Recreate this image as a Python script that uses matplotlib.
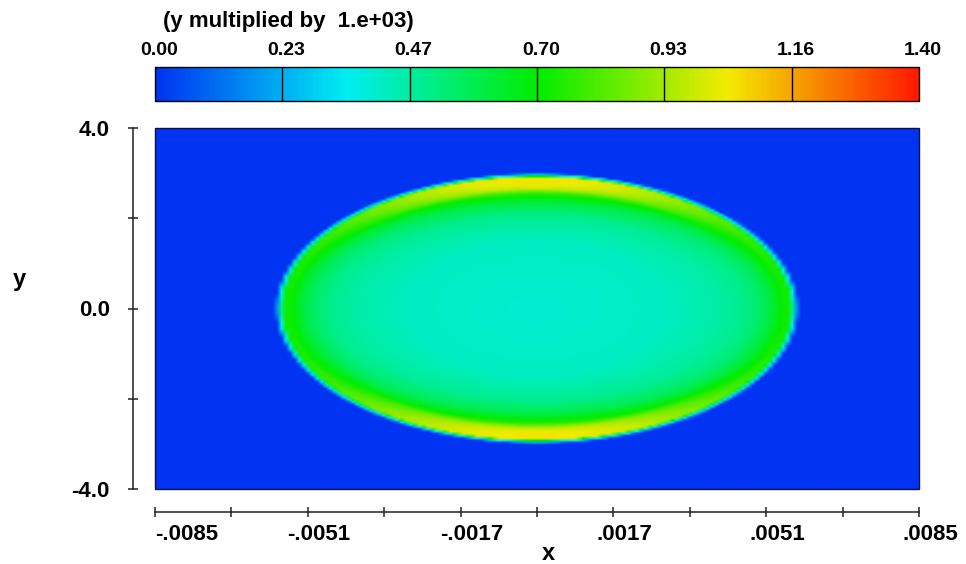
import numpy as np
import matplotlib
matplotlib.use('Agg')
import matplotlib.pyplot as plt
from matplotlib.colors import LinearSegmentedColormap
from matplotlib.transforms import ScaledTranslation
from matplotlib.patches import Rectangle

plt.rcParams['font.family'] = ['Liberation Sans', 'DejaVu Sans']
plt.rcParams['font.weight'] = 'bold'

# ---------------- data ----------------
cbar_ticks = [0.0, 0.2333, 0.4667, 0.70, 0.9333, 1.1667, 1.40]
cbar_labels = ['0.00', '0.23', '0.47', '0.70', '0.93', '1.16', '1.40']
cbar_title = '(y multiplied by  1.e+03)'
x_major = [-0.0085, -0.0051, -0.0017, 0.0017, 0.0051, 0.0085]
x_labels = ['-.0085', '-.0051', '-.0017', '.0017', '.0051', '.0085']
x_minor = [-0.0068, -0.0034, 0.0, 0.0034, 0.0068]
y_major = [-4.0, 0.0, 4.0]
y_labels = ['-4.0', '0.0', '4.0']
y_minor = [-2.0, 2.0]
x_range = [-0.0085, 0.0085]
y_range = [-4.0, 4.0]

# ellipse semi-axes of the bubble
semi_x = 0.00578
semi_y = 2.98
# value profile vs normalized elliptic radius, at the sides and at top/bottom
r_grid = [0.00, 0.50, 0.70, 0.80, 0.86, 0.90, 0.94, 0.965, 0.982, 0.992, 1.002, 1.012]
v_side = [0.40, 0.42, 0.46, 0.50, 0.55, 0.60, 0.68, 0.73, 0.72, 0.42, 0.30, 0.00]
v_top  = [0.40, 0.42, 0.50, 0.62, 0.76, 1.00, 1.06, 1.06, 1.04, 0.45, 0.30, 0.00]
nx, ny = 172, 160

# ---------------- field ----------------
xc = np.linspace(x_range[0], x_range[1], nx)
yc = np.linspace(y_range[0], y_range[1], ny)
X, Y = np.meshgrid(xc, yc)
U = X / semi_x
W = Y / semi_y
R = np.sqrt(U**2 + W**2)
S = np.abs(W) / np.maximum(R, 1e-9)
wgt = S**3
field = (1 - wgt) * np.interp(R, r_grid, v_side) + wgt * np.interp(R, r_grid, v_top)

cmap = LinearSegmentedColormap.from_list(
    'tec', [(0.00, (0.0, 0.20, 0.95)),
            (0.25, (0.0, 0.93, 0.95)),
            (0.50, (0.0, 0.93, 0.0)),
            (0.75, (0.95, 0.92, 0.0)),
            (1.00, (1.0, 0.1, 0.0))])

fig = plt.figure(figsize=(9.66, 5.64), dpi=100)
W_, H_ = 966.0, 564.0
ax = fig.add_axes([155 / W_, 1 - 489 / H_, 764 / W_, 361 / H_])
im = ax.imshow(field, extent=[x_range[0], x_range[1], y_range[0], y_range[1]],
               origin='lower', aspect='auto', cmap=cmap, vmin=0, vmax=1.4,
               interpolation='bilinear')
ax.set_xlim(x_range)
ax.set_ylim(y_range)
for s in ['top', 'right']:
    ax.spines[s].set_visible(False)
ax.spines['left'].set_position(('outward', 22 * 0.72))
ax.spines['bottom'].set_position(('outward', 23 * 0.72))
for s in ['left', 'bottom']:
    ax.spines[s].set_linewidth(1.1)
    ax.spines[s].set_color('#222222')
ax.add_patch(Rectangle((0, 0), 1, 1, transform=ax.transAxes, fill=False,
                       lw=1.0, ec='#101040', clip_on=False, zorder=5))

ax.set_xticks(x_major)
ax.set_xticklabels(x_labels)
ax.set_xticks(x_minor, minor=True)
ax.set_yticks(y_major)
ax.set_yticklabels(y_labels)
ax.set_yticks(y_minor, minor=True)
ax.tick_params(which='both', direction='inout', length=7.5, width=1.1, color='#222222')
ax.tick_params(axis='x', labelsize=16, pad=5)
ax.tick_params(axis='y', labelsize=16, pad=13)

for i, lab in enumerate(ax.get_xticklabels()):
    if i == 0:
        lab.set_ha('left')
        dx = 0
    else:
        dx = 11
    lab.set_transform(lab.get_transform() + ScaledTranslation(dx / 100, 0, fig.dpi_scale_trans))

fig.text(19 / W_, 1 - 279 / H_, 'y', fontsize=17, ha='center', va='center')
fig.text(548 / W_, 1 - 553 / H_, 'x', fontsize=17, ha='center', va='center')

# ---------------- colorbar ----------------
cax = fig.add_axes([155 / W_, 1 - 101 / H_, 764 / W_, 34 / H_])
cb = fig.colorbar(im, cax=cax, orientation='horizontal', ticklocation='top')
cb.set_ticks(cbar_ticks)
cb.set_ticklabels(cbar_labels)
cax.tick_params(length=0, labelsize=14, pad=6)
cb.outline.set_linewidth(1.0)
cb.outline.set_color('black')
for t in cbar_ticks[1:-1]:
    cax.axvline(t, color='black', lw=1.0)
for lab in cax.get_xticklabels():
    lab.set_transform(lab.get_transform() + ScaledTranslation(4 / 100, 0, fig.dpi_scale_trans))
fig.text(163 / W_, 1 - 22 / H_, cbar_title, fontsize=16, ha='left', va='center')

fig.savefig('out.png', dpi=100)
